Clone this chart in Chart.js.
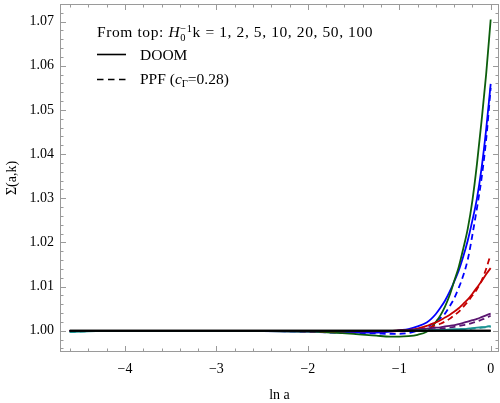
<!DOCTYPE html>
<html>
<head>
<meta charset="utf-8">
<script src="https://cdn.jsdelivr.net/npm/chart.js@4.4.1/dist/chart.umd.min.js"></script>
<style>
  html, body { margin: 0; padding: 0; background: #fff; }
</style>
</head>
<body>
<canvas id="sigmaChart" width="500" height="403"></canvas>
<script>
// --- DONNÉES ---
const lnA = [-4.605, -4.4, -4, -3, -2.5, -2, -1.75, -1.5, -1.25, -1.1, -1.0, -0.9, -0.8, -0.7,
             -0.65, -0.6, -0.55, -0.5, -0.45, -0.4, -0.35, -0.3, -0.25, -0.2, -0.15, -0.1, -0.05, 0];

const kValues = [1, 2, 5, 10, 20, 50, 100];
const xTicks = [-4, -3, -2, -1, 0];
const yTicks = [1.00, 1.01, 1.02, 1.03, 1.04, 1.05, 1.06, 1.07];

// DOOM (traits pleins)
const doomK1 = [1.0000, 1.0000, 1.0000, 1.0000, 0.99995, 0.9998, 0.9996, 0.9993, 0.9989, 0.9987, 0.9987, 0.9988, 0.9991, 0.9998,
                1.0007, 1.0020, 1.0035, 1.0055, 1.0080, 1.0112, 1.0144, 1.0186, 1.0232, 1.0295, 1.0378, 1.0475, 1.0580, 1.0705];
const doomK2 = [1.0000, 1.0000, 1.0000, 1.0000, 0.99995, 0.9998, 0.9997, 0.9996, 0.9996, 0.9998, 1.0001, 1.0004, 1.0010, 1.0019,
                1.0027, 1.0038, 1.0052, 1.0068, 1.0088, 1.0111, 1.0136, 1.0168, 1.0205, 1.0250, 1.0300, 1.0368, 1.0455, 1.0559];
const doomK5 = [1.0000, 1.0000, 1.0000, 1.0000, 1.0000, 1.0000, 1.0000, 1.0000, 1.0000, 1.0000, 1.0001, 1.0002, 1.0005, 1.0011,
                1.0015, 1.0019, 1.0024, 1.0030, 1.0036, 1.0043, 1.0051, 1.0061, 1.0071, 1.0084, 1.0098, 1.0112, 1.0128, 1.0142];
const doomK10 = [1.0000, 1.0000, 1.0000, 1.0000, 1.0000, 1.0000, 1.0000, 1.0000, 1.0000, 1.0000, 1.0001, 1.0002, 1.0003, 1.0005,
                 1.0006, 1.0007, 1.0008, 1.0010, 1.0011, 1.0013, 1.0015, 1.0018, 1.0021, 1.0024, 1.0027, 1.0031, 1.0035, 1.0039];
const doomK20 = [0.9997, 0.9999, 1.0000, 1.0000, 1.0000, 1.0000, 1.0000, 1.0000, 1.0000, 1.0000, 1.0000, 1.0000, 1.0001, 1.0001,
                 1.0001, 1.0002, 1.0002, 1.0002, 1.0003, 1.0003, 1.0004, 1.0004, 1.0005, 1.0006, 1.0007, 1.0008, 1.0009, 1.0011];
const doomK50 = [1.0000, 1.0000, 1.0000, 1.0000, 1.0000, 1.0000, 1.0000, 1.0000, 1.0000, 1.0000, 1.0000, 1.0000, 1.0000, 1.0000,
                 1.0000, 1.0000, 1.0000, 1.0000, 1.0000, 1.0000, 1.0000, 1.0000, 1.0000, 1.0000, 1.0000, 1.0000, 1.0000, 1.0000];
const doomK100 = [1.0000, 1.0000, 1.0000, 1.0000, 1.0000, 1.0000, 1.0000, 1.0000, 1.0000, 1.0000, 1.0000, 1.0000, 1.0000, 1.0000,
                  1.0000, 1.0000, 1.0000, 1.0000, 1.0000, 1.0000, 1.0000, 1.0000, 1.0000, 1.0000, 1.0000, 1.0000, 1.0000, 1.0000];

// PPF, c_Γ = 0.28 (tirets)
const ppfK2 = [1.0000, 1.0000, 1.0000, 1.0000, 0.99995, 0.9998, 0.9996, 0.9995, 0.9994, 0.9993, 0.9993, 0.9995, 1.0000, 1.0008,
               1.0014, 1.0021, 1.0029, 1.0039, 1.0055, 1.0073, 1.0097, 1.0125, 1.0162, 1.0217, 1.0278, 1.0345, 1.0432, 1.0550];
const ppfK5 = [1.0000, 1.0000, 1.0000, 1.0000, 1.0000, 0.9999, 0.9999, 0.9999, 0.9999, 0.9999, 0.9999, 1.0000, 1.0002, 1.0006,
               1.0009, 1.0012, 1.0016, 1.0021, 1.0027, 1.0035, 1.0043, 1.0054, 1.0066, 1.0080, 1.0094, 1.0113, 1.0140, 1.0173];
const ppfK10 = [1.0000, 1.0000, 1.0000, 1.0000, 1.0000, 1.0000, 1.0000, 1.0000, 1.0000, 1.0000, 1.0000, 1.0000, 1.0001, 1.0002,
                1.0003, 1.0004, 1.0005, 1.0006, 1.0007, 1.0009, 1.0011, 1.0013, 1.0015, 1.0018, 1.0021, 1.0025, 1.0029, 1.0034];
const ppfK20 = [0.9997, 0.9999, 1.0000, 1.0000, 1.0000, 1.0000, 1.0000, 1.0000, 1.0000, 1.0000, 1.0000, 1.0000, 1.0000, 1.0001,
                1.0001, 1.0001, 1.0002, 1.0002, 1.0002, 1.0003, 1.0003, 1.0004, 1.0004, 1.0005, 1.0006, 1.0007, 1.0008, 1.0009];

// --- STYLE ---
const FONT = '"Liberation Serif", "Times New Roman", serif';
const FRAME = '#9a9a9a';
const colors = { k1: '#0c5e0c', k2: '#0000ff', k5: '#c40000', k10: '#5a1570', k20: '#1a9393', k50: '#000000', k100: '#000000' };

function toXY(values) {
    return values.map((v, i) => ({ x: lnA[i], y: v }));
}

function serie(label, values, color, dashed, width) {
    return {
        label: label,
        data: toXY(values),
        borderColor: color,
        borderWidth: width || 1.8,
        borderDash: dashed ? [6, 4] : [],
        pointRadius: 0,
        fill: false,
        cubicInterpolationMode: 'monotone'
    };
}

// Cadre + graduations intérieures (style Mathematica)
const framePlugin = {
    id: 'frame',
    beforeDatasetsDraw(chart) {
        const { ctx, chartArea: a, scales: { x, y } } = chart;
        ctx.save();
        ctx.strokeStyle = FRAME;
        ctx.lineWidth = 1;
        ctx.strokeRect(a.left + 0.5, a.top + 0.5, a.right - a.left - 1, a.bottom - a.top - 1);
        ctx.beginPath();
        // axe x : majeures tous les 1, mineures tous les 0.2
        for (let i = -23; i <= 0; i++) {
            const px = Math.round(x.getPixelForValue(i / 5)) + 0.5;
            const len = (i % 5 === 0) ? 6 : 3.5;
            ctx.moveTo(px, a.bottom); ctx.lineTo(px, a.bottom - len);
            ctx.moveTo(px, a.top); ctx.lineTo(px, a.top + len);
        }
        // axe y : majeures tous les 0.01, mineures tous les 0.002
        for (let i = 498; i <= 536; i++) {
            const py = Math.round(y.getPixelForValue(i / 500)) + 0.5;
            const len = (i % 5 === 0) ? 6 : 3.5;
            ctx.moveTo(a.left, py); ctx.lineTo(a.left + len, py);
            ctx.moveTo(a.right, py); ctx.lineTo(a.right - len, py);
        }
        ctx.stroke();
        ctx.restore();
    }
};

function drawRich(ctx, x, y, parts, size) {
    parts.forEach(p => {
        ctx.font = (p.italic ? 'italic ' : '') + (p.size || size) + 'px ' + FONT;
        ctx.fillText(p.t, x, y + (p.dy || 0));
        if (!p.stay) x += ctx.measureText(p.t).width;
    });
}

// Légende dessinée dans le graphique
const legendPlugin = {
    id: 'richLegend',
    afterDraw(chart) {
        const ctx = chart.ctx;
        ctx.save();
        ctx.fillStyle = '#000';
        ctx.textBaseline = 'alphabetic';
        ctx.letterSpacing = '0.6px';
        drawRich(ctx, 97, 37, [
            { t: 'From top: ' },
            { t: 'H', italic: true },
            { t: '0', size: 10.5, dy: 3.5, stay: true },
            { t: '\u22121', size: 10.5, dy: -5.5 },
            { t: 'k = ' + kValues.join(', ') }
        ], 15.5);
        ctx.letterSpacing = '0px';
        ctx.strokeStyle = '#000';
        ctx.lineWidth = 1.6;
        ctx.beginPath(); ctx.moveTo(97, 54.5); ctx.lineTo(126, 54.5); ctx.stroke();
        ctx.setLineDash([6.5, 4.5]);
        ctx.beginPath(); ctx.moveTo(97, 79.5); ctx.lineTo(126, 79.5); ctx.stroke();
        ctx.setLineDash([]);
        drawRich(ctx, 140, 59.5, [{ t: 'DOOM' }], 15.5);
        drawRich(ctx, 140, 83.5, [
            { t: 'PPF (' },
            { t: 'c', italic: true },
            { t: '\u0393', size: 10.5, dy: 3 },
            { t: '=0.28)' }
        ], 15.5);
        ctx.restore();
    }
};

const minus = v => (v < 0 ? '\u2212' + Math.abs(v) : String(v));

new Chart(document.getElementById('sigmaChart'), {
    type: 'line',
    data: {
        datasets: [
            serie('k=100 DOOM', doomK100, colors.k100, false, 2),
            serie('k=50 DOOM', doomK50, colors.k50, false, 2),
            serie('k=20 PPF', ppfK20, colors.k20, true),
            serie('k=20 DOOM', doomK20, colors.k20, false),
            serie('k=10 PPF', ppfK10, colors.k10, true),
            serie('k=10 DOOM', doomK10, colors.k10, false),
            serie('k=5 PPF', ppfK5, colors.k5, true),
            serie('k=5 DOOM', doomK5, colors.k5, false),
            serie('k=1 DOOM', doomK1, colors.k1, false),
            serie('k=2 PPF', ppfK2, colors.k2, true),
            serie('k=2 DOOM', doomK2, colors.k2, false)
        ]
    },
    options: {
        responsive: false,
        animation: false,
        layout: { padding: { top: 4, right: 1, left: 0, bottom: 0 } },
        plugins: { legend: { display: false }, tooltip: { enabled: false } },
        scales: {
            x: {
                type: 'linear',
                min: -4.711,
                max: 0.091,
                grid: { display: false, drawTicks: false },
                border: { display: false },
                afterBuildTicks: s => { s.ticks = xTicks.map(v => ({ value: v })); },
                afterFit: s => { s.height = 51; s.paddingLeft = 0; s.paddingRight = 0; },
                ticks: {
                    color: '#000',
                    padding: 9,
                    font: { family: FONT, size: 14 },
                    callback: v => minus(v)
                },
                title: {
                    display: true,
                    text: 'ln a',
                    color: '#000',
                    font: { family: FONT, size: 14 },
                    padding: { top: 0, bottom: -1 }
                }
            },
            y: {
                type: 'linear',
                min: 0.9952,
                max: 1.0740,
                grid: { display: false, drawTicks: false },
                border: { display: false },
                afterBuildTicks: s => { s.ticks = yTicks.map(v => ({ value: v })); },
                afterFit: s => { s.width = 60; s.paddingTop = 0; s.paddingBottom = 0; },
                ticks: {
                    color: '#000',
                    padding: 6,
                    font: { family: FONT, size: 14 },
                    callback: v => v.toFixed(2)
                },
                title: {
                    display: true,
                    text: '\u03a3(a,k)',
                    color: '#000',
                    font: { family: FONT, size: 14 },
                    padding: { top: 4, bottom: 0 }
                }
            }
        }
    },
    plugins: [framePlugin, legendPlugin]
});
</script>
</body>
</html>
